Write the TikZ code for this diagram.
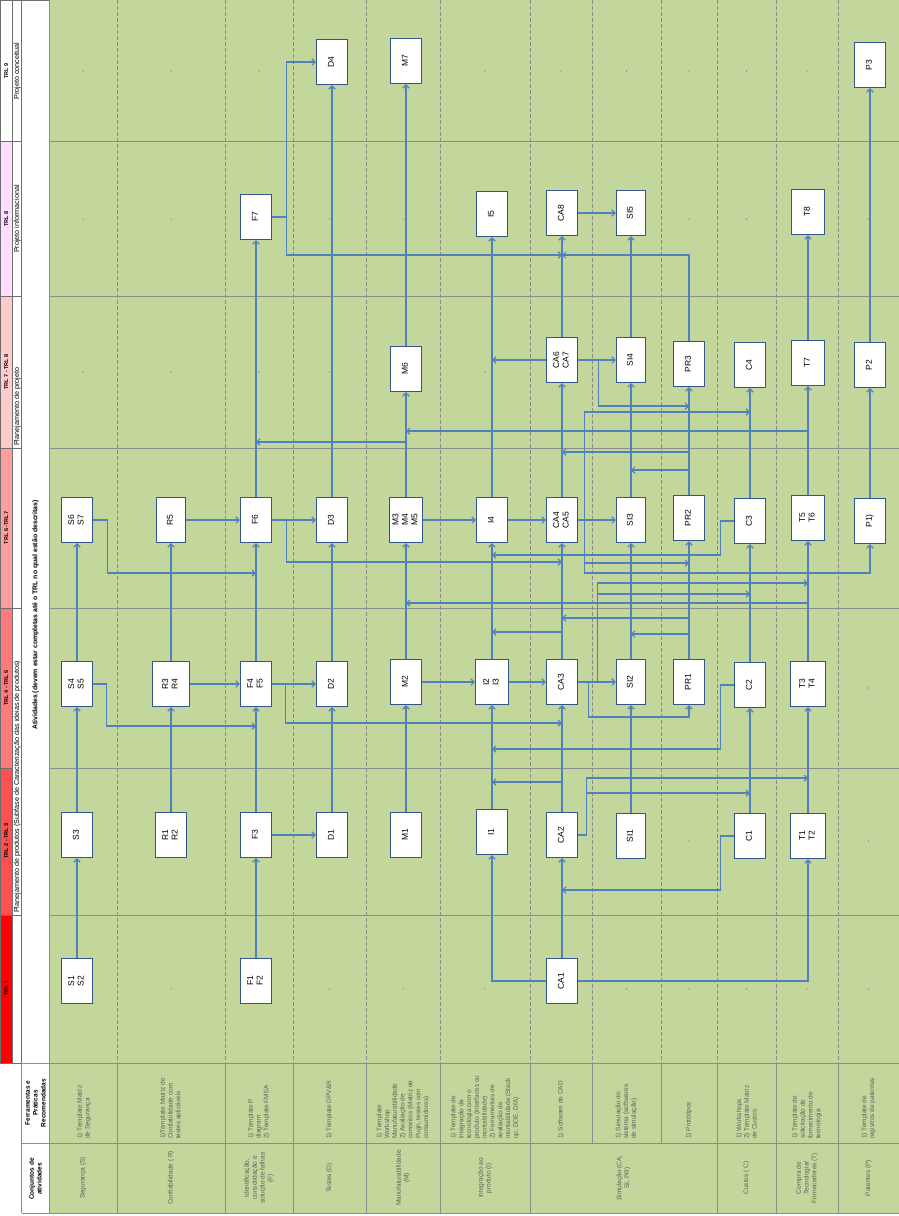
\documentclass[tikz,border=0pt]{standalone}
\usepackage{fontspec}
\setmainfont{Liberation Sans}
\usetikzlibrary{arrows.meta}
\definecolor{gridGreen}{HTML}{C3D69B}
\definecolor{boxBlue}{HTML}{34558A}
\definecolor{flowBlue}{HTML}{4F81BD}
\definecolor{ruleGray}{HTML}{8C8C8C}
\definecolor{cellGray}{HTML}{6E6E6E}
\definecolor{soft}{HTML}{606060}
\definecolor{trlA}{HTML}{FF0000}
\definecolor{trlB}{HTML}{FF4F4F}
\definecolor{trlC}{HTML}{FF7A7A}
\definecolor{trlD}{HTML}{FF9E9E}
\definecolor{trlE}{HTML}{FFCCCC}
\definecolor{trlF}{HTML}{FFDDFF}
\newcommand{\vt}[1]{\rotatebox{90}{\begin{tabular}{@{}c@{}}#1\end{tabular}}}

\begin{document}
\begin{tikzpicture}[x=1pt, y=-1pt, font=\fontsize{8.5}{9.5}\selectfont,
  box/.style={draw=boxBlue, line width=1.4pt, fill=white, minimum width=31pt, minimum height=45pt, inner sep=0pt},
  flow/.style={flowBlue, line width=1.1pt, -{Straight Barb[length=3.2pt,width=6.4pt]}},
  solidrule/.style={ruleGray, line width=0.7pt},
  dashrule/.style={ruleGray, line width=0.6pt, dash pattern=on 4pt off 2pt},
  cellrule/.style={cellGray, line width=0.6pt},
  trl/.style={rotate=90, font=\fontsize{5.5}{6.5}\selectfont\bfseries, inner sep=0pt},
  phase/.style={rotate=90, font=\fontsize{7.2}{8}\selectfont, inner sep=0pt},
  tool/.style={rotate=90, anchor=west, align=left, text=soft, font=\fontsize{6.5}{7.8}\selectfont, inner sep=0pt},
  setname/.style={rotate=90, align=center, text=soft, font=\fontsize{6.5}{7.8}\selectfont, inner sep=0pt}]
\useasboundingbox (0,0) rectangle (899,1216);

% background and grid
\fill[gridGreen] (49,0) rectangle (899,1213);
\fill[trlA] (0,915) rectangle (12.7,1063);
\fill[trlB] (0,768) rectangle (12.7,915);
\fill[trlC] (0,608) rectangle (12.7,768);
\fill[trlD] (0,448) rectangle (12.7,608);
\fill[trlE] (0,296) rectangle (12.7,448);
\fill[trlF] (0,141.7) rectangle (12.7,296);
\foreach \yy in {141.7,296,448,608,768,915} \draw[solidrule] (49,\yy) -- (899,\yy);
\foreach \xx in {117,225,293,366,440,530,592,661,717,776,838} \draw[dashrule] (\xx,0) -- (\xx,1062.5);
\draw[cellrule] (0,0) rectangle (12.7,1063);
\draw[cellrule] (12.7,0) rectangle (21.7,1063);
\draw[cellrule] (21.7,0) rectangle (49,1063);
\foreach \yy in {141.7,296,448,608,768,915} \draw[cellrule] (0,\yy) -- (12.7,\yy);
\foreach \yy in {141.7,296,448,608,915} \draw[cellrule] (12.7,\yy) -- (21.7,\yy);
\draw[solidrule] (21.7,1063) -- (899,1063);
\draw[solidrule] (21.7,1143) -- (899,1143);
\draw[solidrule] (21.7,1213) -- (899,1213);
\draw[solidrule] (21.7,1063) -- (21.7,1213);
\draw[solidrule] (49,0) -- (49,1213);
\draw[solidrule] (899,0) -- (899,1213);
\foreach \xx in {117,225,293,366,440,530,592,661,717,776,838} \draw[solidrule] (\xx,1063) -- (\xx,1143);
\foreach \xx in {117,225,293,366,440,530,717,776,838} \draw[solidrule] (\xx,1143) -- (\xx,1213);
\foreach \xx/\yy in {171/989,329.5/989,403/989,485/989,626.5/989,689/989,746.5/989,807/989,868.5/989,
    689/841,868.5/841,868.5/688,
    83/372,171/372,259/372,329.5/372,485/372,
    83/219,171/219,329.5/219,403/219,689/219,746.5/219,868.5/219,
    83/71,171/71,259/71,485/71,561/71,626.5/71,689/71,746.5/71,807/71}
  \fill[cellGray] (\xx,\yy) circle (0.6pt);

% header
\node[trl] (trl1) at (6.3,988) {TRL 1};
\node[trl] (trl23) at (6.3,841) {TRL 2 - TRL 3};
\node[trl] (trl45) at (6.3,688) {TRL 4 - TRL 5};
\node[trl] (trl67) at (6.3,528) {TRL 6 -TRL7};
\node[trl] (trl78) at (6.3,372) {TRL 7 - TRL 8};
\node[trl] (trl8) at (6.3,219) {TRL 8};
\node[trl] (trl9) at (6.3,71) {TRL 9};
\node[phase, anchor=west] (ph1) at (17.2,913) {Planejamento de produtos (Subfase de Caracterização das ideias de produtos)};
\node[phase, anchor=west] (ph2) at (17.2,446) {Planejamento de projeto};
\node[phase] (ph3) at (17.2,219) {Projeto informacional};
\node[phase] (ph4) at (17.2,71) {Projeto conceitual};
\node[rotate=90, font=\fontsize{6.9}{8}\selectfont\bfseries] (ativ) at (35.5,615)
  {Atividades (devem estar completas até o TRL no qual estão descritas)};
\node[rotate=90, align=center, font=\fontsize{6.5}{7.8}\selectfont\bfseries] (hfer) at (35.5,1103)
  {Ferramentas e\\Práticas\\Recomendadas};
\node[rotate=90, align=center, font=\fontsize{6.5}{7.8}\selectfont\bfseries] (hcon) at (35.5,1179)
  {Conjuntos de\\atividades};

% tools and activity sets
\node[tool] (ts) at (84,1139) {1) Template Matriz\\de Segurança};
\node[tool] (tr) at (171,1139) {1)Template Matriz de\\Confiabilidade com\\testes aplicáveis};
\node[tool] (tf) at (259,1139) {1) Template P\\diagram\\2) Template FMEA};
\node[tool] (td) at (329.5,1139) {1) Template DPV\&R};
\node[tool] (tm) at (403,1139) {1) Template\\Workshop\\Manufaturabilidade\\2) Avaliação de\\conceitos (Matriz de\\Pugh, testes com\\consumidores)};
\node[tool] (ti) at (485,1139) {1) Template de\\integração da\\tecnologia com o\\produto (interfaces ou\\montabilidade)\\2) Ferramentas de\\avaliação de\\montabilidade (Stack\\up, DOE, DfA)};
\node[tool] (tca) at (561,1139) {1) Software de CAD};
\node[tool] (tsi) at (626.5,1139) {1) Simulação do\\sistema (softwares\\de simulação)};
\node[tool] (tpr) at (689,1139) {1) Protótipos};
\node[tool] (tc) at (746.5,1139) {1) Workshops\\2) Template Matriz\\de Custos};
\node[tool] (tt) at (807,1139) {1) Template de\\solicitação de\\fornecimento de\\tecnologia};
\node[tool] (tp) at (868.5,1139) {1) Template de\\registros de patentes};
\node[setname] (cs) at (83,1178) {Segurança (S)};
\node[setname] (cr) at (171,1178) {Confiabilidade ( R)};
\node[setname] (cf) at (259,1178) {Identificação,\\consolidação e\\solução de falhas\\(F)};
\node[setname] (cd) at (329.5,1178) {Testes (D)};
\node[setname] (cm) at (403,1178) {Manufaturabilidade\\(M)};
\node[setname] (ci) at (485,1178) {Integração ao\\produto (I)};
\node[setname] (csim) at (623.5,1178) {Simulação (CA,\\SI, PR)};
\node[setname] (cc) at (746.5,1178) {Custos ( C)};
\node[setname] (ct) at (807,1178) {Compra de\\Tecnologia/\\Fornecedores (T)};
\node[setname] (cp) at (868.5,1178) {Patentes (P)};

% activity boxes
\node[box] (s12) at (77,981) {\vt{S1\\S2}};
\node[box] (s3) at (77,835) {\vt{S3}};
\node[box] (s45) at (77,684) {\vt{S4\\S5}};
\node[box] (s67) at (77,520) {\vt{S6\\S7}};
\node[box] (r12) at (171,835) {\vt{R1\\R2}};
\node[box, minimum width=37pt] (r34) at (171,684) {\vt{R3\\R4}};
\node[box, minimum width=29pt] (r5) at (171,520) {\vt{R5}};
\node[box] (f12) at (256,981) {\vt{F1\\F2}};
\node[box] (f3) at (256,835) {\vt{F3}};
\node[box] (f45) at (256,684) {\vt{F4\\F5}};
\node[box] (f6) at (256,520) {\vt{F6}};
\node[box] (f7) at (256,217) {\vt{F7}};
\node[box] (d1) at (332,835) {\vt{D1}};
\node[box] (d2) at (332,684) {\vt{D2}};
\node[box] (d3) at (332,520) {\vt{D3}};
\node[box] (d4) at (332,62) {\vt{D4}};
\node[box] (m1) at (406,835) {\vt{M1}};
\node[box] (m2) at (406,682) {\vt{M2}};
\node[box, minimum width=33pt] (m345) at (406,520) {\vt{M3\\M4\\M5}};
\node[box] (m6) at (406,369) {\vt{M6}};
\node[box] (m7) at (406,61) {\vt{M7}};
\node[box] (i1) at (492,832) {\vt{I1}};
\node[box, minimum width=33pt] (i23) at (492,682) {\vt{I2\\I3}};
\node[box] (i4) at (492,520) {\vt{I4}};
\node[box] (i5) at (492,214) {\vt{I5}};
\node[box] (ca1) at (562,981) {\vt{CA1}};
\node[box] (ca2) at (562,835) {\vt{CA2}};
\node[box] (ca3) at (562,682) {\vt{CA3}};
\node[box] (ca45) at (562,520) {\vt{CA4\\CA5}};
\node[box] (ca67) at (562,360) {\vt{CA6\\CA7}};
\node[box] (ca8) at (562,213) {\vt{CA8}};
\node[box, minimum width=29pt] (si1) at (631,836) {\vt{SI1}};
\node[box, minimum width=29pt] (si2) at (631,682) {\vt{SI2}};
\node[box, minimum width=29pt] (si3) at (631,520) {\vt{SI3}};
\node[box, minimum width=29pt] (si4) at (631,360) {\vt{SI4}};
\node[box, minimum width=29pt] (si5) at (631,213) {\vt{SI5}};
\node[box] (pr1) at (689,682) {\vt{PR1}};
\node[box] (pr2) at (689,518) {\vt{PR2}};
\node[box] (pr3) at (689,364) {\vt{PR3}};
\node[box] (c1) at (750,836) {\vt{C1}};
\node[box] (c2) at (750,685) {\vt{C2}};
\node[box] (c3) at (750,521) {\vt{C3}};
\node[box] (c4) at (750,365) {\vt{C4}};
\node[box, minimum width=35pt] (t12) at (808,836) {\vt{T1\\T2}};
\node[box, minimum width=35pt] (t34) at (808,684) {\vt{T3\\T4}};
\node[box, minimum width=33pt] (t56) at (808,518) {\vt{T5\\T6}};
\node[box, minimum width=33pt] (t7) at (808,363) {\vt{T7}};
\node[box, minimum width=33pt] (t8) at (808,212) {\vt{T8}};
\node[box] (p1) at (870,521) {\vt{P1)}};
\node[box] (p2) at (870,365) {\vt{P2}};
\node[box] (p3) at (870,65) {\vt{P3}};

% chains within a set
\draw[flow] (s12) -- (s3);
\draw[flow] (s3) -- (s45);
\draw[flow] (s45) -- (s67);
\draw[flow] (r12) -- (r34);
\draw[flow] (r34) -- (r5);
\draw[flow] (f12) -- (f3);
\draw[flow] (f3) -- (f45);
\draw[flow] (f45) -- (f6);
\draw[flow] (f6) -- (f7);
\draw[flow] (d1) -- (d2);
\draw[flow] (d2) -- (d3);
\draw[flow] (d3) -- (d4);
\draw[flow] (m1) -- (m2);
\draw[flow] (m2) -- (m345);
\draw[flow] (m345) -- (m6);
\draw[flow] (m6) -- (m7);
\draw[flow] (i1) -- (i23);
\draw[flow] (i23) -- (i4);
\draw[flow] (i4) -- (i5);
\draw[flow] (ca1) -- (ca2);
\draw[flow] (ca2) -- (ca3);
\draw[flow] (ca3) -- (ca45);
\draw[flow] (ca45) -- (ca67);
\draw[flow] (ca67) -- (ca8);
\draw[flow] (si1) -- (si2);
\draw[flow] (si2) -- (si3);
\draw[flow] (si3) -- (si4);
\draw[flow] (si4) -- (si5);
\draw[flow] (pr1) -- (pr2);
\draw[flow] (pr2) -- (pr3);
\draw[flow] (c1) -- (c2);
\draw[flow] (c2) -- (c3);
\draw[flow] (c3) -- (c4);
\draw[flow] (t12) -- (t34);
\draw[flow] (t34) -- (t56);
\draw[flow] (t56) -- (t7);
\draw[flow] (t7) -- (t8);
\draw[flow] (p1) -- (p2);
\draw[flow] (p2) -- (p3);

% links between sets
\draw[flow] (r34) -- (f45);
\draw[flow] (r5) -- (f6);
\draw[flow] (f3) -- (d1);
\draw[flow] (f45) -- (d2);
\draw[flow] (f6) -- (d3);
\draw[flow] (m2) -- (i23);
\draw[flow] (m345) -- (i4);
\draw[flow] (i23) -- (ca3);
\draw[flow] (i4) -- (ca45);
\draw[flow] (ca3) -- (si2);
\draw[flow] (ca45) -- (si3);
\draw[flow] (ca67) -- (si4);
\draw[flow] (ca8) -- (si5);
\draw[flow] (s45.east) -- ++(13,0) |- (f3 |- 0,726);
\draw[flow] (s67.east) -- ++(14,0) |- (f45 |- 0,573);
\draw[flow] (f45.east) -- ++(13,0) |- (ca2 |- 0,723);
\draw[flow] (f6.east) -- ++(14,0) |- (ca3 |- 0,562);
\draw[flow] (f7.east) -- ++(14,0) |- (d4.west);
\draw[flow] (f7.east) -- ++(14,0) |- (ca67 |- 0,255);
\draw[flow] (m345.north) |- (f6 |- 0,442);
\draw[flow] (t56.north) |- (m345 |- 0,431);
\draw[flow] (t34.north) |- (m2 |- 0,603);
\draw[flow] (ca1.west) -| (i1.south);
\draw[flow] (ca1.east) -| (t12.south);
\draw[flow] (ca3.north) |- (i23 |- 0,632);
\draw[flow] (ca2.north) |- (i1 |- 0,782);
\draw[flow] (c2.west) -- ++(-13,0) |- (i1 |- 0,749);
\draw[flow] (c3.west) -- ++(-13,0) |- (i23 |- 0,555);
\draw[flow] (c1.west) -- ++(-13,0) |- (ca1 |- 0,890);
\draw[flow] (ca2.east) -- ++(8,0) |- (t12 |- 0,778);
\draw[flow] (ca2.east) -- ++(8,0) |- (c1 |- 0,793);
\draw[flow] (ca3.east) -- ++(10,0) -- ++(0,35) -| (pr1.south);
\draw[flow] (ca3.east) -- ++(19,0) |- (t34 |- 0,583);
\draw[flow] (ca3.east) -- ++(19,0) |- (c2 |- 0,594);
\draw[flow] (ca45.east) -- ++(6,0) -- ++(0,53) -| (p1.south);
\draw[flow] (ca45.east) -- ++(6,0) |- (pr1 |- 0,563);
\draw[flow] (ca45.east) -- ++(6,0) |- (c3 |- 0,412);
\draw[flow] (ca67.west) -- (i4 |- ca67.west);
\draw[flow] (ca67.east) -- ++(20,0) |- (pr2 |- 0,406);
\draw[flow] (pr1.north) |- (ca3 |- 0,618);
\draw[flow] (pr1.north) |- (si2 |- 0,634);
\draw[flow] (pr2.north) |- (ca45 |- 0,452);
\draw[flow] (pr2.north) |- (si3 |- 0,470);
\draw[flow] (pr3.north) |- (ca8 |- 0,255);
\end{tikzpicture}
\end{document}
